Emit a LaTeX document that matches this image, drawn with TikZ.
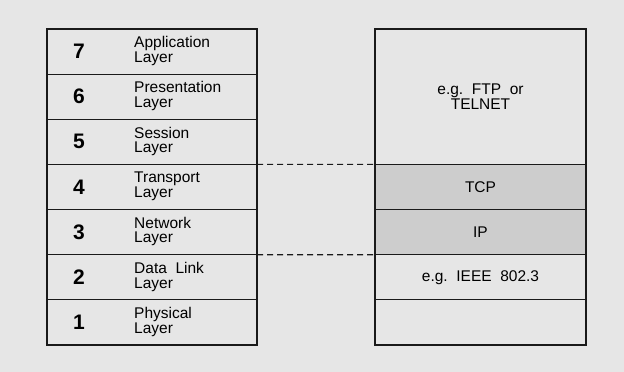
\documentclass[tikz,border=0pt]{standalone}
\usepackage{fontspec}
\setmainfont{Liberation Sans}
\definecolor{bg}{HTML}{E6E6E6}
\definecolor{shade}{HTML}{CDCDCD}
\definecolor{linec}{HTML}{1A1A1A}
\begin{document}
\begin{tikzpicture}[x=1pt,y=-1pt,
  cell/.style={draw=linec, line width=1.1pt, minimum width=210pt, minimum height=45.143pt, inner sep=0pt, outer sep=0pt, anchor=north west},
  rcell/.style={draw=linec, line width=1.1pt, minimum width=211pt, inner sep=0pt, outer sep=0pt, anchor=north west, align=center, font=\fontsize{15.5}{14.5}\selectfont},
  num/.style={font=\fontsize{21}{21}\selectfont\bfseries, inner sep=0pt},
  lbl/.style={font=\fontsize{15.5}{14.5}\selectfont, align=left, anchor=west, inner sep=0pt},
  conn/.style={draw=linec, line width=1.1pt, dash pattern=on 6pt off 4pt}]
\fill[bg] (0,0) rectangle (624,372);
\useasboundingbox (0,0) rectangle (624,372);
% left stack
\foreach \n/\i/\a/\b in {7/0/Application/Layer,6/1/Presentation/Layer,5/2/Session/Layer,4/3/Transport/Layer,3/4/Network/Layer,2/5/Data~~Link/Layer,1/6/Physical/Layer}{
  \node[cell] (L\n) at (47,{29+\i*45.143}) {};
  \node[num] (N\n) at ([xshift=32pt]L\n.west) {\n};
  \node[lbl] (T\n) at ([xshift=87pt,yshift=0.5pt]L\n.west) {\a\\\b};
}
% right stack
\node[rcell, minimum height=135.43pt] (app) at (375,29) {e.g.~~FTP~~or\\TELNET};
\node[rcell, minimum height=45.143pt, fill=shade] (tcp) at (app.south west) {TCP};
\node[rcell, minimum height=45.143pt, fill=shade] (ip) at (tcp.south west) {IP};
\node[rcell, minimum height=45.143pt] (ieee) at (ip.south west) {e.g.~~IEEE~~802.3};
\node[rcell, minimum height=45.143pt] (phy) at (ieee.south west) {};
% dashed connectors
\draw[conn] (L4.north east) -- (tcp.north west);
\draw[conn] (L3.south east) -- (ip.south west);
\end{tikzpicture}
\end{document}
